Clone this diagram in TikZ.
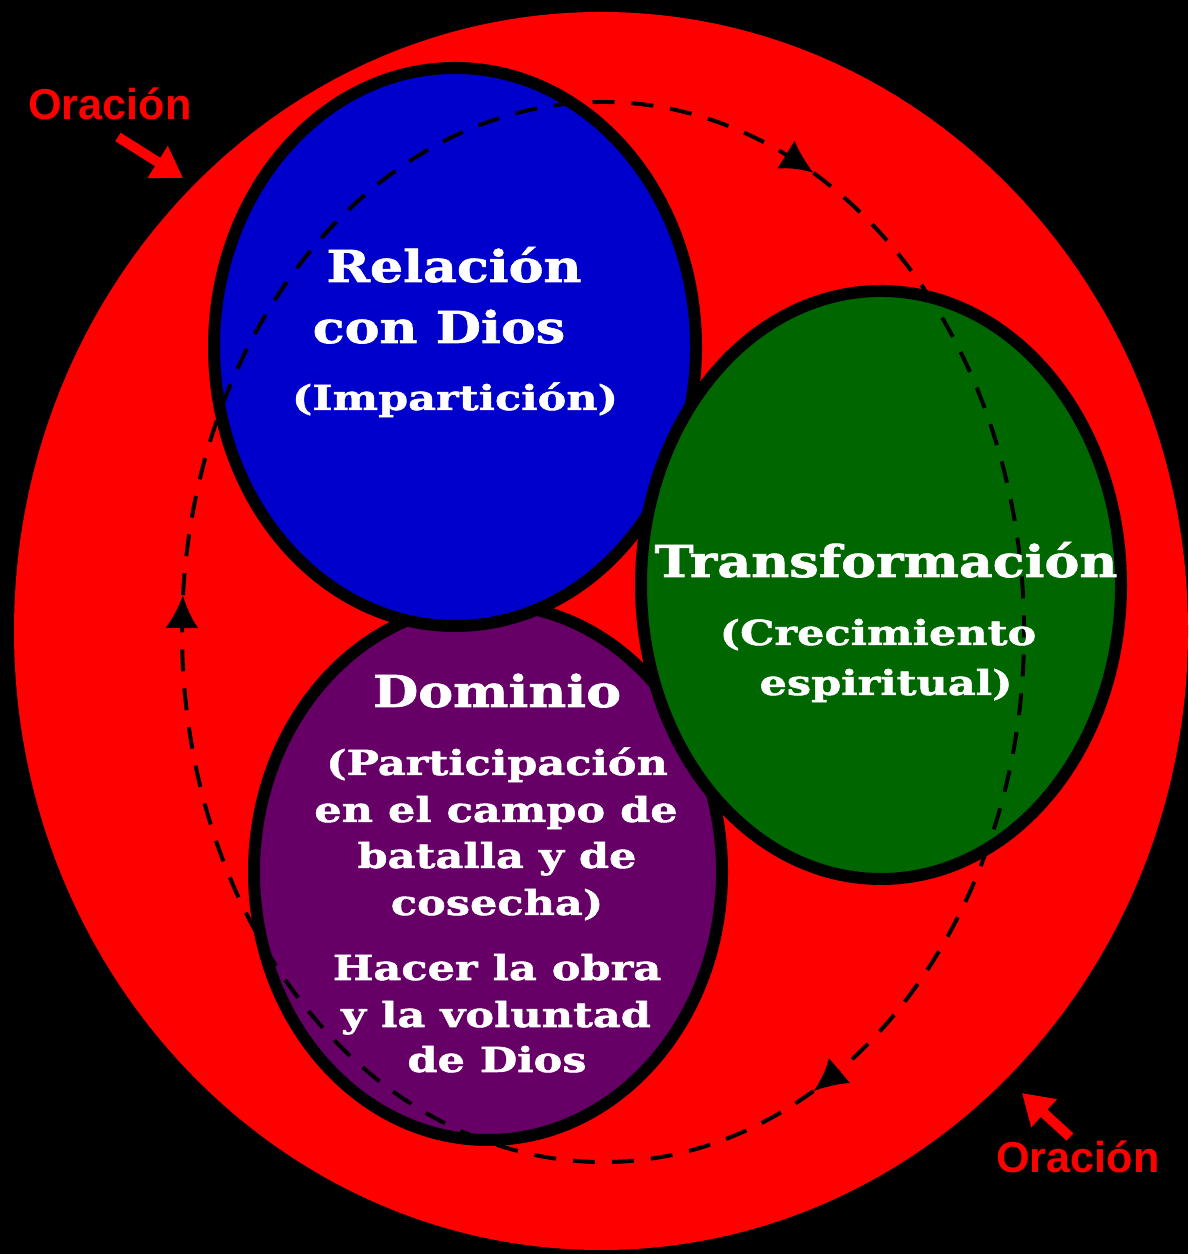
\documentclass[tikz,border=0pt]{standalone}
\usepackage{fontspec}
\setmainfont{DejaVu Serif}
\newfontfamily\letrasans{Liberation Sans}
\newfontfamily\letratitulo{DejaVu Serif}[FakeStretch=1.19, BoldFeatures={FakeBold=1.5}]
\newfontfamily\letrasub{DejaVu Serif}[FakeStretch=1.25, BoldFeatures={FakeBold=1.5}]
\usetikzlibrary{arrows.meta, bending}

\definecolor{azulrel}{HTML}{0000CC}
\definecolor{verdetra}{HTML}{006600}
\definecolor{moradodom}{HTML}{660066}

\tikzset{
	titulo/.style={text=white, anchor=base, inner sep=0pt, font=\letratitulo\fontsize{12.5}{14}\selectfont\bfseries},
	subtitulo/.style={text=white, anchor=base, inner sep=0pt, font=\letrasub\fontsize{9.8}{12}\selectfont\bfseries},
	oracion/.style={text=red, inner sep=0pt, font=\letrasans\fontsize{12.3}{14}\selectfont\bfseries},
	flecharoja/.style={red, line width=1mm, -{Triangle[length=3mm,width=3.6mm]}},
	ciclo/.style={line width=0.4mm, dash pattern=on 2.2mm off 1.7mm, -{Latex[length=3.3mm,width=3.3mm,bend]}}
}

\begin{document}
\begin{tikzpicture}
	% Fondo negro
	\fill[black] (0,0) rectangle (11.88,12.54);
	\useasboundingbox (0,0) rectangle (11.88,12.54);
	
	% Elipse roja exterior
	\fill[red] (6.01,6.23) ellipse (5.87 and 6.19);
	
	% Las tres elipses
	\draw[fill=moradodom, line width=1.2mm] (4.88,3.82) ellipse (2.34 and 2.68);
	\draw[fill=azulrel, line width=1.2mm] (4.55,9.07) ellipse (2.41 and 2.79);
	\draw[fill=verdetra, line width=1.2mm] (8.81,6.69) ellipse (2.40 and 2.94);
	
	% Ciclo punteado en sentido horario
	\begin{scope}[shift={(6.03,6.22)}]
		\draw[ciclo] (176:4.21 and 5.30) arc[start angle=176, end angle=60, x radius=4.21, y radius=5.30];
		\draw[ciclo] (60:4.21 and 5.30) arc[start angle=60, end angle=-60, x radius=4.21, y radius=5.30];
		\draw[ciclo] (-60:4.21 and 5.30) arc[start angle=-60, end angle=-184, x radius=4.21, y radius=5.30];
	\end{scope}
	
	% Textos de la elipse azul
	\node[titulo] (rel1) at (4.54,9.72) {Relación};
	\node[titulo] (rel2) at (4.39,9.11) {con Dios};
	\node[subtitulo] (rel3) at (4.55,8.44) {(Impartición)};
	
	% Textos de la elipse verde
	\node[titulo] (tra1) at (8.86,6.77) {Transformación};
	\node[subtitulo] (tra2) at (8.78,6.09) {(Crecimiento};
	\node[subtitulo] (tra3) at (8.86,5.59) {espiritual)};
	
	% Textos de la elipse morada
	\node[titulo] (dom1) at (4.97,5.47) {Dominio};
	\node[subtitulo] (dom2) at (4.97,4.79) {(Participación};
	\node[subtitulo] (dom3) at (4.96,4.32) {en el campo de};
	\node[subtitulo] (dom4) at (4.97,3.86) {batalla y de};
	\node[subtitulo] (dom5) at (4.97,3.39) {cosecha)};
	\node[subtitulo] (dom6) at (4.97,2.74) {Hacer la obra};
	\node[subtitulo] (dom7) at (4.96,2.27) {y la voluntad};
	\node[subtitulo] (dom8) at (4.97,1.82) {de Dios};
	
	% Etiquetas de oracion con sus flechas
	\node[oracion] (oracA) at (1.10,11.50) {Oración};
	\coordinate (colaA) at (1.18,11.17);
	\coordinate (puntaA) at (1.83,10.76);
	\draw[flecharoja] (colaA) -- (puntaA);
	
	\node[oracion] (oracB) at (10.78,0.97) {Oración};
	\coordinate (colaB) at (10.70,1.17);
	\coordinate (puntaB) at (10.22,1.61);
	\draw[flecharoja] (colaB) -- (puntaB);
\end{tikzpicture}
\end{document}
